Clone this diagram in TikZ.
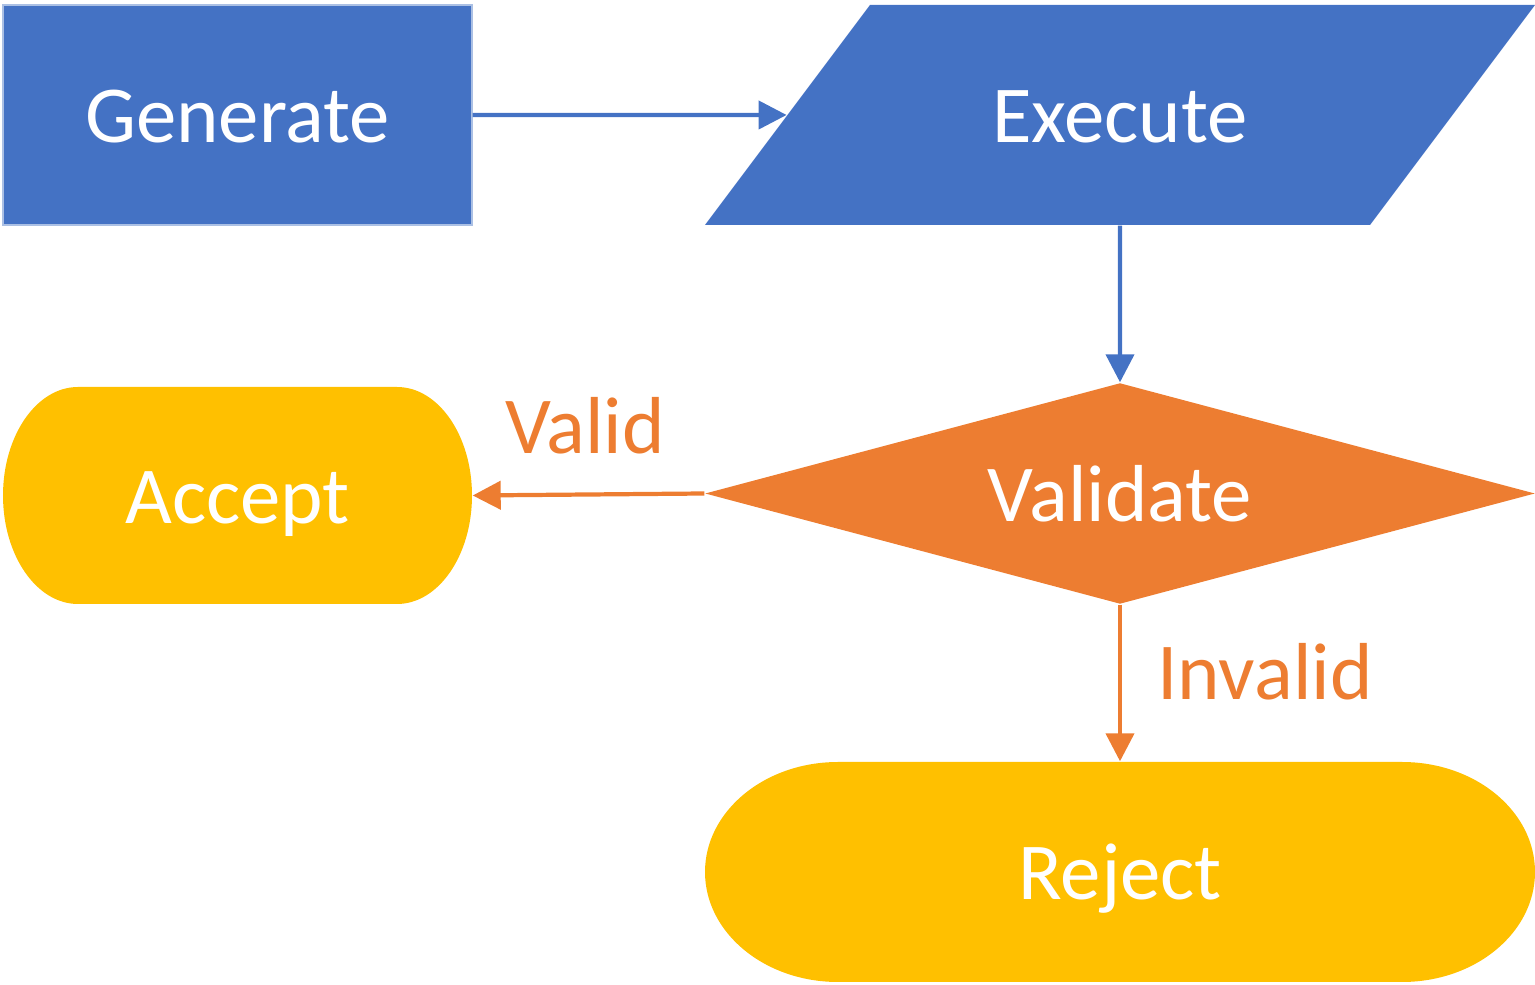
\documentclass[tikz,border=0pt]{standalone}
\usepackage{fontspec}
\setmainfont{Carlito}
\usepackage{tikz}
\usetikzlibrary{shapes.geometric}
\usetikzlibrary{arrows.meta}

\definecolor{flowblue}{HTML}{4472C4}
\definecolor{floworange}{HTML}{ED7D31}
\definecolor{flowyellow}{HTML}{FFC000}

\tikzset{
    box/.style={inner sep=0pt, text=white, font=\fontsize{23}{27}\selectfont, text height=0.75cm, text depth=0.19cm},
    label/.style={inner sep=0pt, text=floworange, font=\fontsize{23}{27}\selectfont, text height=0.75cm, text depth=0.19cm},
    bluearrow/.style={draw=flowblue, line width=1.2pt, -{Triangle[length=2.8mm, width=2.8mm]}},
    orangearrow/.style={draw=floworange, line width=1.2pt, -{Triangle[length=2.8mm, width=2.8mm]}}
}

\begin{document}
\begin{tikzpicture}
    \useasboundingbox (0,0) rectangle (15.35,-9.85);

    %terminals
    \fill[flowyellow] (0.78,-3.87) -- (3.97,-3.87) arc[start angle=90, end angle=-90, x radius=0.75, y radius=1.085] -- (0.78,-6.04) arc[start angle=270, end angle=90, x radius=0.75, y radius=1.085] -- cycle;
    \fill[flowyellow] (8.38,-7.62) -- (14.02,-7.62) arc[start angle=90, end angle=-90, x radius=1.33, y radius=1.10] -- (8.38,-9.82) arc[start angle=270, end angle=90, x radius=1.33, y radius=1.10] -- cycle;

    %nodes
    \node[box, rectangle, fill=flowblue, draw=flowblue!45!white, line width=0.4pt, minimum width=4.69cm, minimum height=2.20cm] (gen) at (2.375,-1.15) {Generate};
    \node[box, trapezium, trapezium left angle=53.13, trapezium right angle=126.87, trapezium stretches body=true, inner ysep=0.63cm, fill=flowblue, minimum width=8.30cm] (exe) at (11.2,-1.15) {Execute};
    \node[box, diamond, aspect=3.76, fill=floworange, minimum width=8.30cm, minimum height=2.21cm] (val) at (11.2,-4.935) {Validate};
    \node[box, rectangle, minimum width=4.69cm, minimum height=2.17cm] (acc) at (2.375,-4.955) {Accept};
    \node[box, rectangle, minimum width=8.30cm, minimum height=2.20cm] (rej) at (11.2,-8.72) {Reject};

    %arrows
    \draw[bluearrow] (gen) -- (exe);
    \draw[bluearrow] (exe) -- (val);
    \draw[orangearrow] (val.west) -- (acc.east);
    \draw[orangearrow] (val) -- (rej);

    %labels
    \node[label] (lvalid) at (5.85,-4.26) {Valid};
    \node[label] (linvalid) at (12.65,-6.72) {Invalid};
\end{tikzpicture}
\end{document}
